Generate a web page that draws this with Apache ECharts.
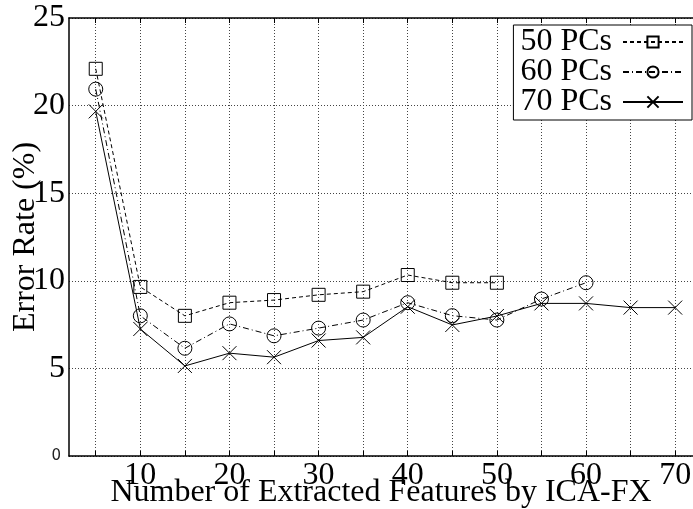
<!DOCTYPE html>
<html>
<head>
<meta charset="utf-8">
<script src="https://cdn.jsdelivr.net/npm/echarts@6/dist/echarts.min.js"></script>
<style>
html, body { margin: 0; padding: 0; background: #fff; }
#main { width: 693px; height: 509px; }
</style>
</head>
<body>
<div id="main"></div>
<script>
// 数据
var xs50 = [5, 10, 15, 20, 25, 30, 35, 40, 45, 50];
var err50 = [22.1, 9.65, 8.0, 8.75, 8.9, 9.2, 9.38, 10.33, 9.89, 9.89];
var xs60 = [5, 10, 15, 20, 25, 30, 35, 40, 45, 50, 55, 60];
var err60 = [20.94, 8.0, 6.15, 7.54, 6.86, 7.3, 7.76, 8.75, 8.01, 7.76, 8.96, 9.89];
var xs70 = [5, 10, 15, 20, 25, 30, 35, 40, 45, 50, 55, 60, 65, 70];
var err70 = [19.67, 7.25, 5.14, 5.87, 5.64, 6.59, 6.77, 8.52, 7.48, 7.99, 8.71, 8.71, 8.47, 8.47];
var xTicks = [5, 10, 15, 20, 25, 30, 35, 40, 45, 50, 55, 60, 65, 70];
var xLabels = [10, 20, 30, 40, 50, 60, 70];
var seriesNames = ['50 PCs', '60 PCs', '70 PCs'];

var SERIF = '"Liberation Serif", "DejaVu Serif", serif';

function pairs(xs, ys) {
    var out = [];
    for (var i = 0; i < xs.length; i++) {
        out.push([xs[i], ys[i]]);
    }
    return out;
}

function mkSeries(name, data, symbol, size, dash) {
    return {
        name: name,
        type: 'line',
        data: data,
        symbol: symbol,
        symbolSize: size,
        showAllSymbol: true,
        itemStyle: { color: 'rgba(0,0,0,0)', borderColor: '#000', borderWidth: 1 },
        lineStyle: { color: '#000', width: 1, type: dash },
        emphasis: { disabled: true },
        z: 3
    };
}

var chart = echarts.init(document.getElementById('main'));
chart.setOption({
    animation: false,
    backgroundColor: '#fff',
    grid: { left: 69, right: 0, top: 18, bottom: 53, outerBoundsMode: 'none', containLabel: false },
    legend: {
        data: seriesNames,
        right: 1,
        top: 25,
        orient: 'vertical',
        align: 'right',
        itemWidth: 60,
        itemHeight: 14,
        itemGap: -2,
        padding: [1, 8, 2, 7],
        borderColor: '#000',
        borderWidth: 1,
        backgroundColor: '#fff',
        textStyle: { fontFamily: SERIF, fontSize: 32, color: '#000', padding: [0, 6, 0, 0] }
    },
    xAxis: [{
        type: 'value',
        min: 2,
        max: 72,
        name: 'Number of Extracted Features by ICA-FX',
        nameLocation: 'middle',
        nameGap: 21,
        nameMoveOverlap: false,
        nameTextStyle: { fontFamily: SERIF, fontSize: 32, color: '#000' },
        axisLine: { lineStyle: { color: '#000', width: 1.5 } },
        axisTick: { inside: true, length: 5, customValues: xTicks, lineStyle: { color: '#000' } },
        axisLabel: { customValues: xLabels, margin: 4, fontFamily: SERIF, fontSize: 32, color: '#000' },
        splitLine: { show: true, lineStyle: { color: '#444', width: 1, type: [1, 2] } }
    }, {
        type: 'value',
        position: 'top',
        min: 2,
        max: 72,
        axisLine: { show: true, lineStyle: { color: '#000', width: 1.5 } },
        axisTick: { inside: true, length: 5, customValues: xTicks, lineStyle: { color: '#000' } },
        axisLabel: { show: false },
        splitLine: { show: false }
    }],
    yAxis: {
        type: 'value',
        min: 0,
        max: 25,
        interval: 5,
        name: 'Error Rate (%)',
        nameLocation: 'middle',
        nameGap: 27,
        nameMoveOverlap: false,
        nameTextStyle: { fontFamily: SERIF, fontSize: 32, color: '#000' },
        axisLine: { show: true, lineStyle: { color: '#000', width: 1.5 } },
        axisTick: { show: false },
        axisLabel: {
            margin: 4,
            fontFamily: SERIF,
            fontSize: 32,
            color: '#000',
            formatter: function (v) {
                return v === 0 ? '{s|0}' : String(v);
            },
            rich: {
                s: { fontFamily: '"DejaVu Sans", sans-serif', fontSize: 15, color: '#222', padding: [0, 4, 0, 0] }
            }
        },
        splitLine: { show: true, lineStyle: { color: '#444', width: 1, type: [1, 2] } }
    },
    series: [
        mkSeries(seriesNames[0], pairs(xs50, err50), 'rect', 13, [4, 3]),
        mkSeries(seriesNames[1], pairs(xs60, err60), 'circle', 14, [6, 3, 1, 3]),
        mkSeries(seriesNames[2], pairs(xs70, err70), 'path://M0,0L10,10M10,0L0,10', 14, 'solid')
    ]
});
</script>
</body>
</html>
